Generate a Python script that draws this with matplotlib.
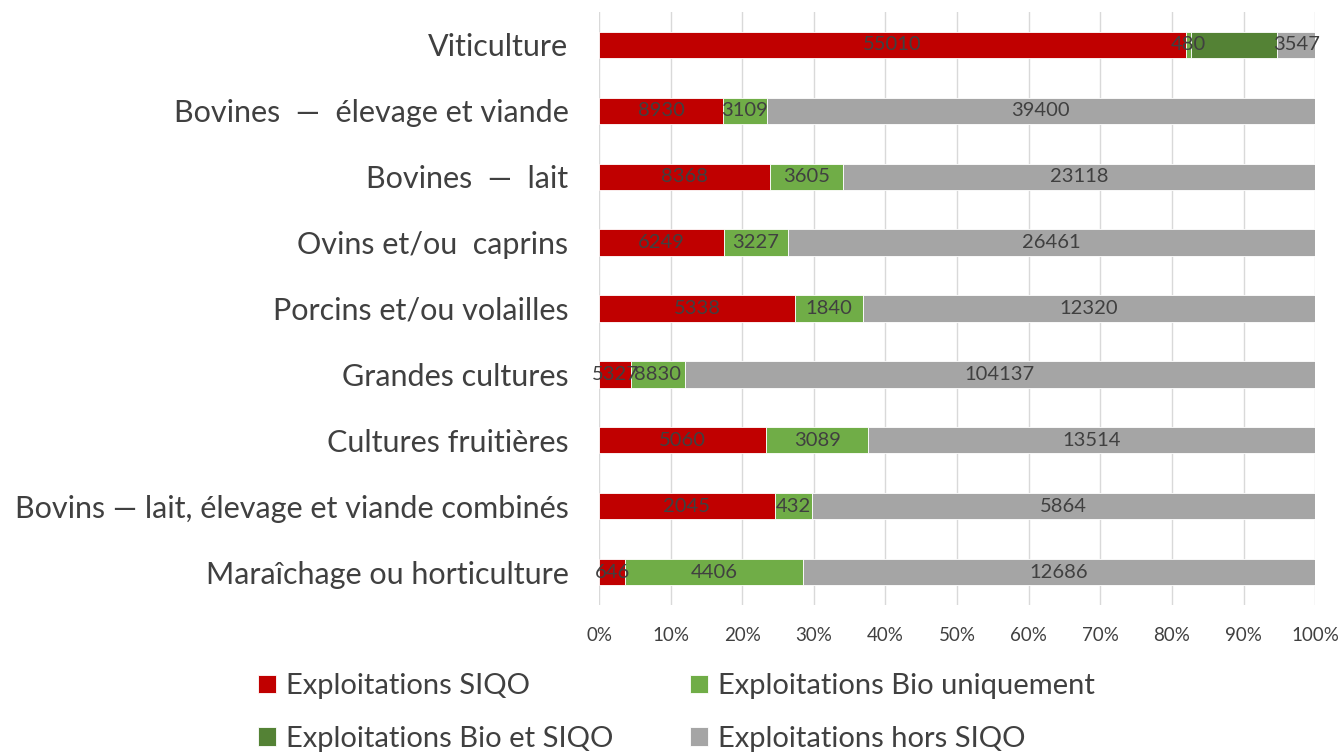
import numpy as np
import matplotlib
matplotlib.use("Agg")
from matplotlib import pyplot as plt
from matplotlib.ticker import PercentFormatter

plt.rcParams["font.family"] = ["Lato", "DejaVu Sans"]

# Data (top to bottom)
categories = [
    "Viticulture",
    "Bovines  —  élevage et viande",
    "Bovines  —  lait",
    "Ovins et/ou  caprins",
    "Porcins et/ou volailles",
    "Grandes cultures",
    "Cultures fruitières",
    "Bovins — lait, élevage et viande combinés",
    "Maraîchage ou horticulture",
]
siqo = [55010, 8930, 8368, 6249, 5338, 5327, 5060, 2045, 646]
bio_only = [480, 3109, 3605, 3227, 1840, 8830, 3089, 432, 4406]
bio_siqo = [8050, 0, 0, 0, 0, 0, 0, 0, 0]
hors_siqo = [3547, 39400, 23118, 26461, 12320, 104137, 13514, 5864, 12686]

series_names = ["Exploitations SIQO", "Exploitations Bio uniquement",
                "Exploitations Bio et SIQO", "Exploitations hors SIQO"]
colors = ["#C00000", "#70AD47", "#548235", "#A5A5A5"]

data = np.array([siqo, bio_only, bio_siqo, hors_siqo], dtype=float)
totals = data.sum(axis=0)
shares = data / totals * 100

fig = plt.figure(figsize=(13.41, 7.55), dpi=100)
ax = fig.add_axes([0.4467, 0.1987, 0.534, 0.7854])

y = np.arange(len(categories))
left = np.zeros(len(categories))
handles = []
for i in range(4):
    bars = ax.barh(y, shares[i], left=left, height=0.4, color=colors[i],
                   edgecolor="white", linewidth=0.6, label=series_names[i], zorder=3)
    handles.append(bars)
    labels = []
    for j, v in enumerate(data[i]):
        # the Bio et SIQO segment carries no label in the original
        if v == 0 or i == 2:
            labels.append("")
        else:
            labels.append(f"{int(v)}")
    ax.bar_label(bars, labels=labels, label_type="center", color="#404040",
                 fontsize=14.5, zorder=4)
    left += shares[i]

ax.set_xlim(0, 100)
ax.set_ylim(len(categories) - 0.5, -0.5)
ax.set_yticks(y)
ax.set_yticklabels(categories, fontsize=22, color="#404040")
ax.set_xticks(np.arange(0, 101, 10))
ax.xaxis.set_major_formatter(PercentFormatter(decimals=0))
ax.tick_params(axis="x", labelsize=13.5, labelcolor="#404040", length=0, pad=16)
ax.tick_params(axis="y", length=0, pad=22)
for s in ax.spines.values():
    s.set_visible(False)
ax.grid(axis="x", color="#D9D9D9", linewidth=1, zorder=0)

# legend filled row by row, as in the original
order = [0, 2, 1, 3]
fig.legend([handles[k] for k in order], [series_names[k] for k in order],
           loc="upper left", bbox_to_anchor=(258 / 1341, 0.108),
           ncol=2, frameon=False, fontsize=21, handlelength=0.6,
           handleheight=0.6, handletextpad=0.35, columnspacing=2.65,
           labelspacing=0.9, labelcolor="#404040", borderpad=0,
           borderaxespad=0)

fig.savefig("out.png", dpi=100)
plt.close(fig)
